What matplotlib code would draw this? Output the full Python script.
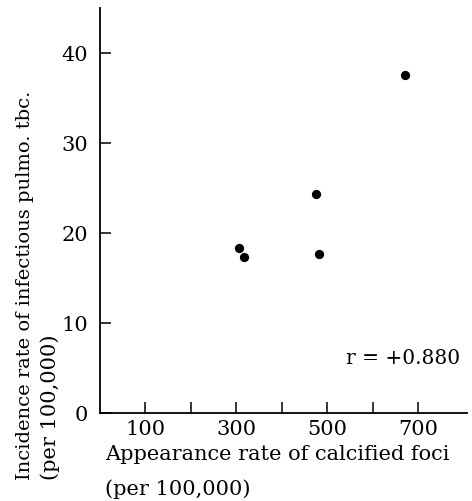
import matplotlib.pyplot as plt

# calcified foci rate vs incidence of infectious pulmonary tbc (per 100,000)
calcified = [305, 317, 476, 481, 671]
incidence = [18.4, 17.4, 24.4, 17.7, 37.6]

xticks = [100, 200, 300, 400, 500, 600, 700]
xticklabels = ["100", "", "300", "", "500", "", "700"]
yticks = [0, 10, 20, 30, 40]

plt.rcParams['font.family'] = ['DejaVu Serif']

fig = plt.figure(figsize=(4.72, 5.01), dpi=100)
ax = fig.add_axes([0.2114, 0.175, 0.7774, 0.8084])

ax.scatter(calcified, incidence, s=32, color='black', zorder=3)

ax.set_xlim(0, 806)
ax.set_ylim(0, 45)
ax.set_xticks(xticks)
ax.set_xticklabels(xticklabels)
ax.set_yticks(yticks)

for side in ['top', 'right']:
    ax.spines[side].set_visible(False)
for side in ['left', 'bottom']:
    ax.spines[side].set_linewidth(1.3)

ax.tick_params(axis='both', direction='in', length=8, width=1.1, labelsize=15)
ax.tick_params(axis='x', pad=5)
ax.tick_params(axis='y', pad=8.5)

ax.text(0.67, 0.1365, "r = +0.880", transform=ax.transAxes, fontsize=14.5,
        ha='left', va='center')

# axis titles, left aligned like in the printed figure
fig.text(0.2225, 0.092, "Appearance rate of calcified foci", fontsize=15,
         ha='left', va='center')
fig.text(0.2225, 0.024, "(per 100,000)", fontsize=15, ha='left', va='center')

fig.text(0.053, 0.042, "Incidence rate of infectious pulmo. tbc.", fontsize=14,
         rotation=90, ha='center', va='bottom')
fig.text(0.106, 0.042, "(per 100,000)", fontsize=15,
         rotation=90, ha='center', va='bottom')

fig.savefig("out.png", dpi=100)
